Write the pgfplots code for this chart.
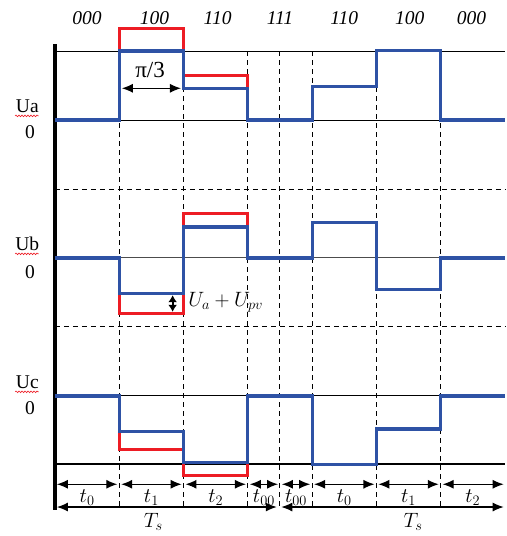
\documentclass[border=0pt]{standalone}
\usepackage{fontspec}
\setmainfont{Liberation Serif}
\usepackage{pgfplots}
\pgfplotsset{compat=1.18}
\usetikzlibrary{arrows.meta,decorations.pathmorphing}
\definecolor{myblue}{RGB}{46,82,165}
\definecolor{myred}{RGB}{237,28,36}
\tikzset{
  lbl/.style={font=\fontsize{19.5}{22}\selectfont},
  mlbl/.style={font=\fontsize{20.74}{24}\selectfont},
  dashln/.style={black,line width=1pt,dash pattern=on 5pt off 4pt},
  arr/.style={black,line width=1.2pt,{Latex[length=11pt,width=9pt]}-{Latex[length=11pt,width=9pt]}},
}
\begin{document}
\begin{tikzpicture}
\begin{axis}[width=505pt,height=536pt,scale only axis,
  xmin=-0.855,xmax=7,ymin=-6.03,ymax=1.74,
  axis lines=none,clip=false,
]
\addplot[draw=none] coordinates {(-0.855,-6.03)(7,1.74)};
% horizontal reference lines
\addplot[black,line width=1pt] coordinates {(0,1)(7,1)};
\addplot[black,line width=1pt] coordinates {(0,0)(7,0)};
\addplot[dashln] coordinates {(0,-1)(7,-1)};
\addplot[black!70,line width=1pt] coordinates {(0,-2)(7,-2)};
\addplot[dashln] coordinates {(0,-3)(7,-3)};
\addplot[black,line width=1pt] coordinates {(0,-4)(7,-4)};
\addplot[black,line width=2.2pt] coordinates {(0,-4.99)(7,-4.99)};
% vertical dashed lines
\addplot[dashln] coordinates {(1,1)(1,-5.65)};
\addplot[dashln] coordinates {(2,1)(2,-5.65)};
\addplot[dashln] coordinates {(3,1)(3,-5.65)};
\addplot[dashln] coordinates {(3.5,1)(3.5,-5.65)};
\addplot[dashln] coordinates {(4,1)(4,-5.65)};
\addplot[dashln] coordinates {(5,1)(5,-5.65)};
\addplot[dashln] coordinates {(6,1)(6,-5.65)};
% left thick axis
\addplot[black,line width=3.5pt] coordinates {(0,1.1)(0,-5.65)};
% red waveforms
\addplot[myred,line width=3pt,line join=miter] coordinates {(1,0.9)(1,1.32)(2,1.32)(2,0.64)(3,0.64)(3,0.46)};
\addplot[myred,line width=3pt,line join=miter] coordinates {(1,-2.5)(1,-2.81)(2,-2.81)(2,-1.36)(3,-1.36)(3,-1.55)};
\addplot[myred,line width=3pt,line join=miter] coordinates {(1,-4.5)(1,-4.77)(2,-4.77)(2,-5.16)(3,-5.16)(3,-4.96)};
% blue waveforms
\addplot[myblue,line width=3.2pt] coordinates {(0,0)(1,0)(1,1)(2,1)(2,0.46)(3,0.46)(3,0)(4,0)(4,0.49)(5,0.49)(5,1.01)(6,1.01)(6,0)(7,0)};
\addplot[myblue,line width=3.2pt] coordinates {(0,-2)(1,-2)(1,-2.51)(2,-2.51)(2,-1.55)(3,-1.55)(3,-2)(4,-2)(4,-1.48)(5,-1.48)(5,-2.46)(6,-2.46)(6,-2)(7,-2)};
\addplot[myblue,line width=3.2pt] coordinates {(0,-4)(1,-4)(1,-4.52)(2,-4.52)(2,-4.96)(3,-4.96)(3,-4)(4,-4)(4,-4.99)(5,-4.99)(5,-4.48)(6,-4.48)(6,-4)(7,-4)};
% annotation arrows
\addplot[arr] coordinates {(1.04,0.46)(1.96,0.46)};
\addplot[black,line width=1.8pt,{Latex[length=7pt,width=9pt]}-{Latex[length=7pt,width=9pt]}] coordinates {(1.83,-2.54)(1.83,-2.78)};
\addplot[arr] coordinates {(0.03,-5.28)(0.97,-5.28)};
\addplot[arr] coordinates {(1.03,-5.28)(1.97,-5.28)};
\addplot[arr] coordinates {(2.03,-5.28)(2.97,-5.28)};
\addplot[arr] coordinates {(3.03,-5.28)(3.47,-5.28)};
\addplot[arr] coordinates {(3.53,-5.28)(3.97,-5.28)};
\addplot[arr] coordinates {(4.03,-5.28)(4.97,-5.28)};
\addplot[arr] coordinates {(5.03,-5.28)(5.97,-5.28)};
\addplot[arr] coordinates {(6.03,-5.28)(6.98,-5.28)};
\addplot[arr] coordinates {(0.03,-5.61)(3.45,-5.61)};
\addplot[arr] coordinates {(3.52,-5.61)(6.98,-5.61)};
% spell-check squiggles
\addplot[myred,line width=0.6pt,decorate,decoration={snake,amplitude=0.8pt,segment length=3pt}] coordinates {(-0.62,0.06)(-0.25,0.06)};
\addplot[myred,line width=0.6pt,decorate,decoration={snake,amplitude=0.8pt,segment length=3pt}] coordinates {(-0.62,-1.94)(-0.25,-1.94)};
\addplot[myred,line width=0.6pt,decorate,decoration={snake,amplitude=0.8pt,segment length=3pt}] coordinates {(-0.62,-3.94)(-0.25,-3.94)};
% text
\node[lbl] at (axis cs:0.5,1.48) {\itshape 000};
\node[lbl] at (axis cs:1.55,1.48) {\itshape 100};
\node[lbl] at (axis cs:2.53,1.48) {\itshape 110};
\node[lbl] at (axis cs:3.5,1.48) {\itshape 111};
\node[lbl] at (axis cs:4.5,1.48) {\itshape 110};
\node[lbl] at (axis cs:5.52,1.48) {\itshape 100};
\node[lbl] at (axis cs:6.48,1.48) {\itshape 000};
\node[lbl] at (axis cs:1.48,0.73) {\fontsize{23}{26}\selectfont π/3};
\node[lbl] at (axis cs:-0.43,0.2) {Ua};
\node[lbl] at (axis cs:-0.39,-0.17) {0};
\node[lbl] at (axis cs:-0.43,-1.8) {Ub};
\node[lbl] at (axis cs:-0.39,-2.2) {0};
\node[lbl] at (axis cs:-0.43,-3.8) {Uc};
\node[lbl] at (axis cs:-0.39,-4.17) {0};
\node[mlbl,anchor=west] at (axis cs:2.02,-2.64) {$U_a + U_{pv}$};
\node[mlbl] at (axis cs:0.5,-5.47) {$t_0$};
\node[mlbl] at (axis cs:1.5,-5.47) {$t_1$};
\node[mlbl] at (axis cs:2.5,-5.47) {$t_2$};
\node[mlbl] at (axis cs:3.25,-5.47) {$t_{00}$};
\node[mlbl] at (axis cs:3.75,-5.47) {$t_{00}$};
\node[mlbl] at (axis cs:4.5,-5.47) {$t_0$};
\node[mlbl] at (axis cs:5.5,-5.47) {$t_1$};
\node[mlbl] at (axis cs:6.5,-5.47) {$t_2$};
\node[mlbl] at (axis cs:1.53,-5.82) {$T_s$};
\node[mlbl] at (axis cs:5.57,-5.82) {$T_s$};
\end{axis}
\end{tikzpicture}
\end{document}
